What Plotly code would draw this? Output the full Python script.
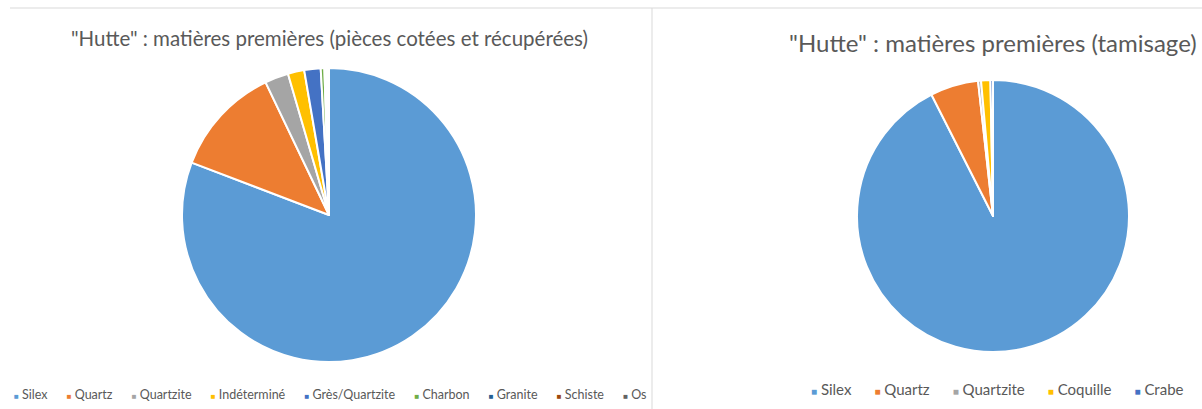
import plotly.graph_objects as go

# ---- data ----
left_title = '"Hutte" : matières premières (pièces cotées et récupérées)'
left_labels = ["Silex", "Quartz", "Quartzite", "Indéterminé", "Grès/Quartzite",
               "Charbon", "Granite", "Schiste", "Os"]
left_values = [80.8, 12.1, 2.6, 1.8, 1.8, 0.4, 0.2, 0.15, 0.15]
left_colors = ["#5B9BD5", "#ED7D31", "#A5A5A5", "#FFC000", "#4472C4",
               "#70AD47", "#255E91", "#9E480E", "#636363"]

right_title = '"Hutte" : matières premières (tamisage)'
right_labels = ["Silex", "Quartz", "Quartzite", "Coquille", "Crabe"]
right_values = [92.3, 5.7, 0.35, 1.1, 0.3]
right_colors = ["#5B9BD5", "#ED7D31", "#A5A5A5", "#FFC000", "#4472C4"]

W, H = 1202, 409
FONT = "Lato, 'Open Sans', sans-serif"
TXT = "#595959"

fig = go.Figure()

def add_pie(labels, values, colors, cx, cy, r, name):
    fig.add_trace(go.Pie(
        labels=labels, values=values, name=name,
        marker=dict(colors=colors, line=dict(color="white", width=2)),
        sort=False, direction="clockwise", rotation=0,
        textinfo="none", hoverinfo="label+value+percent",
        showlegend=False,
        domain=dict(x=[(cx - r) / W, (cx + r) / W],
                    y=[(H - cy - r) / H, (H - cy + r) / H]),
    ))

add_pie(left_labels, left_values, left_colors, 329, 215, 147, "pièces cotées")
add_pie(right_labels, right_values, right_colors, 993, 216, 136, "tamisage")

def legend_text(labels, colors, gap, sq):
    parts = []
    for lab, col in zip(labels, colors):
        parts.append(f"<span style='color:{col};font-size:{sq}px'>■</span> {lab}")
    return ("&nbsp;" * gap).join(parts)

annotations = [
    dict(text=left_title, x=329 / W, y=1 - 38 / H, xref="paper", yref="paper",
         showarrow=False, xanchor="center", yanchor="middle",
         font=dict(family=FONT, size=20.5, color=TXT)),
    dict(text=right_title, x=1199 / W, y=1 - 42 / H, xref="paper", yref="paper",
         showarrow=False, xanchor="right", yanchor="middle",
         font=dict(family=FONT, size=24, color=TXT)),
    dict(text=legend_text(left_labels, left_colors, 6, 8), x=330 / W, y=1 - 394 / H,
         xref="paper", yref="paper", showarrow=False, xanchor="center", yanchor="middle",
         font=dict(family=FONT, size=12.5, color=TXT)),
    dict(text=legend_text(right_labels, right_colors, 6, 10), x=997 / W, y=1 - 389 / H,
         xref="paper", yref="paper", showarrow=False, xanchor="center", yanchor="middle",
         font=dict(family=FONT, size=15, color=TXT)),
]

shapes = [
    dict(type="line", xref="paper", yref="paper", x0=10 / W, x1=1, y0=1 - 8 / H, y1=1 - 8 / H,
         line=dict(color="#D9D9D9", width=1)),
    dict(type="line", xref="paper", yref="paper", x0=652 / W, x1=652 / W, y0=0, y1=1 - 8 / H,
         line=dict(color="#D9D9D9", width=1)),
]

fig.update_layout(
    width=W, height=H, margin=dict(l=0, r=0, t=0, b=0),
    paper_bgcolor="white", plot_bgcolor="white",
    annotations=annotations, shapes=shapes,
    font=dict(family=FONT, color=TXT),
)

fig.write_html("out.html")
